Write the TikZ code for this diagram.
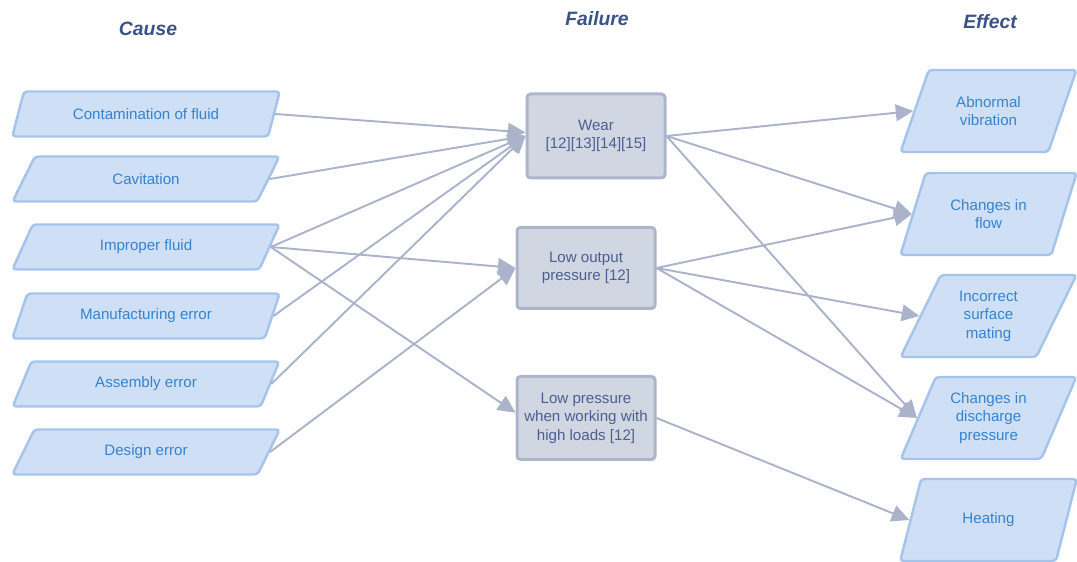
\documentclass[tikz,border=0pt]{standalone}
\usepackage{fontspec}
\setmainfont{Liberation Sans}
\usepackage{xcolor}
\usetikzlibrary{shapes.geometric}
\usetikzlibrary{arrows.meta}
\usetikzlibrary{positioning}

\definecolor{causefill}{HTML}{CFE0F6}
\definecolor{causedraw}{HTML}{A5C4EC}
\definecolor{causetext}{HTML}{3583CF}
\definecolor{failfill}{HTML}{D1D6E3}
\definecolor{faildraw}{HTML}{ADB5CB}
\definecolor{failtext}{HTML}{4B6090}
\definecolor{headtext}{HTML}{3A5288}
\definecolor{linkcol}{HTML}{AAB3CA}

\begin{document}
\begin{tikzpicture}[
    cause/.style={trapezium, trapezium left angle=64, trapezium right angle=116,
      trapezium stretches=true, draw=causedraw, fill=causefill, line width=1.4pt,
      rounded corners=2pt, text=causetext, inner sep=1pt,
      font=\fontsize{8.6}{10.5}\selectfont, align=center},
    effect/.style={cause, minimum width=3.54cm, minimum height=1.64cm},
    failure/.style={rectangle, draw=faildraw, fill=failfill, line width=1.7pt,
      rounded corners=2pt, text=failtext, minimum width=2.76cm,
      font=\fontsize{8.6}{10.5}\selectfont, align=center},
    head/.style={text=headtext, font=\fontsize{11}{13}\selectfont\bfseries\itshape},
    link/.style={draw=linkcol, line width=1.1pt, -{Triangle[length=10pt,width=9.5pt]}}
  ]

  \useasboundingbox (0,0) rectangle (21.54,11.24);

  % Headings
  \node[head] (hcause)  at (2.96, 10.66)  {Cause};
  \node[head] (hfail)   at (11.94, 10.86) {Failure};
  \node[head] (heffect) at (19.80, 10.80) {Effect};

  % Causes
  \node[cause, minimum width=5.36cm, minimum height=0.9cm] (contam) at (2.92, 8.96) {Contamination of fluid};
  \node[cause, minimum width=5.36cm, minimum height=0.9cm] (cavit)  at (2.92, 7.66) {Cavitation};
  \node[cause, minimum width=5.36cm, minimum height=0.9cm] (fluid)  at (2.92, 6.30) {Improper fluid};
  \node[cause, minimum width=5.36cm, minimum height=0.9cm] (manuf)  at (2.92, 4.92) {Manufacturing error};
  \node[cause, minimum width=5.36cm, minimum height=0.9cm] (assem)  at (2.92, 3.56) {Assembly error};
  \node[cause, minimum width=5.36cm, minimum height=0.9cm] (design) at (2.92, 2.20) {Design error};

  % Failures
  \node[failure, minimum height=1.68cm] (wear)   at (11.92, 8.52) {\fontsize{8.6}{11.4}\selectfont Wear\\{}[12][13][14][15]};
  \node[failure, minimum height=1.62cm] (lowout) at (11.72, 5.88) {Low output\\pressure [12]};
  \node[failure, minimum height=1.66cm] (lowpr)  at (11.72, 2.88) {Low pressure\\when working with\\high loads [12]};

  % Effects
  \node[effect] (vibr)  at (19.77, 9.02) {Abnormal\\vibration};
  \node[effect] (flow)  at (19.77, 6.96) {Changes in\\flow};
  \node[effect] (mating) at (19.77, 4.92) {Incorrect\\surface\\mating};
  \node[effect] (disch) at (19.77, 2.88) {Changes in\\discharge\\pressure};
  \node[effect] (heat)  at (19.77, 0.84) {Heating};

  % Cause -> failure
  \draw[link] (contam.east) -- ([yshift=2pt]wear.west);
  \draw[link] (cavit.east)  -- (wear.west);
  \draw[link] (fluid.east)  -- (wear.west);
  \draw[link] (manuf.east)  -- (wear.west);
  \draw[link] (assem.east)  -- (wear.west);
  \draw[link] (fluid.east)  -- (lowout.west);
  \draw[link] (design.east) -- (lowout.west);
  \draw[link] (fluid.east)  -- ([yshift=3pt]lowpr.west);

  % Failure -> effect
  \draw[link] (wear.east)   -- (vibr.west);
  \draw[link] (wear.east)   -- (flow.west);
  \draw[link] (wear.east)   -- (disch.west);
  \draw[link] (lowout.east) -- (flow.west);
  \draw[link] (lowout.east) -- (mating.west);
  \draw[link] (lowout.east) -- (disch.west);
  \draw[link] (lowpr.east)  -- (heat.west);

\end{tikzpicture}
\end{document}
